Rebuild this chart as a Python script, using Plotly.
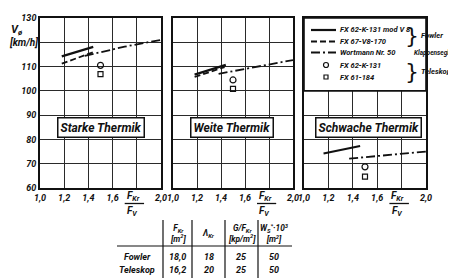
import plotly.graph_objects as go

W, H = 456, 278
OFF = 8  # page body margin offset of the plot div
FONT = "Roboto, Liberation Sans Narrow, DejaVu Sans Condensed, sans-serif"

# ---- data ----
panels = ["Starke Thermik", "Weite Thermik", "Schwache Thermik"]
series_names = ["FX 62-K-131 mod V 8", "FX 67-V8-170", "Wortmann Nr. 50", "FX 62-K-131", "FX 61-184"]

solid_x = [[1.18, 1.44], [1.18, 1.44], [1.16, 1.46]]
solid_y = [[114.2, 118.1], [106.7, 110.7], [74.2, 77.3]]
dashed_x = [[1.18, 1.45], [1.18, 1.43], None]
dashed_y = [[111.2, 116.1], [105.7, 109.8], None]
dashdot_x = [[1.37, 1.7, 2.0], [1.38, 1.7, 2.0], [1.37, 1.7, 2.0]]
dashdot_y = [[114.4, 118.2, 121.0], [107.0, 110.0, 112.7], [72.1, 73.7, 75.0]]
circle_x = [1.5, 1.5, 1.5]
circle_y = [110.5, 104.5, 68.7]
square_x = [1.5, 1.5, 1.5]
square_y = [106.9, 100.8, 64.7]
label_x = [1.50, 1.49, 1.53]
label_y = [85, 85, 85]

x_ticks = [1.0, 1.2, 1.4, 1.6, 1.8, 2.0]
x_ticktext = ["1,0", "1,2", "1,4", "1,6", "", "2,0"]
y_ticks = [60, 70, 80, 90, 100, 110, 120, 130]
y_ticktext = ["60", "70", "80", "90", "100", "110", "", "130"]

table_cols = ["F<sub>Kr</sub><br>[m<sup>2</sup>]", "Λ<sub>Kr</sub>", "G/F<sub>Kr</sub><br>[kp/m<sup>2</sup>]", "W<sub>S</sub><sup>*</sup>·10<sup>3</sup><br>[m<sup>2</sup>]"]
table_rows = ["Fowler", "Teleskop"]
table_vals = [["18,0", "18", "25", "50"], ["16,2", "20", "25", "50"]]

# ---- layout geometry (screen pixels) ----
def px(x):
    return (x - OFF) / W

def py(y):
    return 1 - (y - OFF) / H

doms = [(40, 161), (173, 293), (304, 426)]
ytop, ybot = 18, 188

fig = go.Figure()
ink = "#111"
dash_style = "6px,3px"
dashdot_style = "9px,3px,2px,3px"

for i in range(3):
    xa = "x" if i == 0 else f"x{i+1}"
    ya = "y" if i == 0 else f"y{i+1}"
    fig.add_trace(go.Scatter(x=solid_x[i], y=solid_y[i], mode="lines", xaxis=xa, yaxis=ya,
                             line=dict(color=ink, width=2.2), showlegend=False))
    if dashed_x[i] is not None:
        fig.add_trace(go.Scatter(x=dashed_x[i], y=dashed_y[i], mode="lines", xaxis=xa, yaxis=ya,
                                 line=dict(color=ink, width=1.8, dash=dash_style), showlegend=False))
    fig.add_trace(go.Scatter(x=dashdot_x[i], y=dashdot_y[i], mode="lines", xaxis=xa, yaxis=ya,
                             line=dict(color=ink, width=1.8, dash=dashdot_style), showlegend=False))
    fig.add_trace(go.Scatter(x=[circle_x[i]], y=[circle_y[i]], mode="markers", xaxis=xa, yaxis=ya,
                             marker=dict(symbol="circle-open", size=6, color=ink, line=dict(width=1.2)),
                             showlegend=False))
    fig.add_trace(go.Scatter(x=[square_x[i]], y=[square_y[i]], mode="markers", xaxis=xa, yaxis=ya,
                             marker=dict(symbol="square-open", size=5, color=ink, line=dict(width=1.2)),
                             showlegend=False))

tickfont = dict(family=FONT, size=9, color=ink, style="italic", weight="bold")
axis_common = dict(range=[1.0, 2.0], showgrid=True, gridcolor="#2a2a2a", gridwidth=1,
                   showline=True, mirror=True, linecolor=ink, linewidth=1.6, zeroline=False,
                   ticks="", tickvals=x_ticks, ticktext=x_ticktext, tickfont=tickfont)
yaxis_common = dict(range=[60, 130], showgrid=True, gridcolor="#2a2a2a", gridwidth=1,
                    showline=True, mirror=True, linecolor=ink, linewidth=1.6, zeroline=False,
                    ticks="", tickvals=y_ticks, ticktext=y_ticktext, tickfont=tickfont)

layout = dict(width=W, height=H, margin=dict(l=0, r=0, t=0, b=0, autoexpand=False),
              paper_bgcolor="white", plot_bgcolor="white", showlegend=False)
for i in range(3):
    suffix = "" if i == 0 else str(i + 1)
    xd = dict(axis_common, domain=[px(doms[i][0]), px(doms[i][1])], anchor="y" + suffix)
    yd = dict(yaxis_common, domain=[py(ybot), py(ytop)], anchor="x" + suffix)
    if i > 0:
        yd["showticklabels"] = False
    layout["xaxis" + suffix] = xd
    layout["yaxis" + suffix] = yd
fig.update_layout(**layout)

shapes = []
annotations = []
tf = dict(family=FONT, color=ink, style="italic", weight="bold")


def note(x, y, text, size, xref="paper", yref="paper", xanchor="center", **kw):
    d = dict(x=x, y=y, xref=xref, yref=yref, text=text, showarrow=False,
             xanchor=xanchor, yanchor="middle", font=dict(tf, size=size))
    d.update(kw)
    annotations.append(d)


# panel labels and fraction F_Kr / F_V at 1.8
for i in range(3):
    suffix = "" if i == 0 else str(i + 1)
    note(label_x[i], label_y[i], panels[i], 12, xref="x" + suffix, yref="y" + suffix,
         bgcolor="white", bordercolor=ink, borderwidth=1.5, borderpad=2)
    note(1.77, py(196), "F<sub>Kr</sub>", 10, xref="x" + suffix)
    note(1.76, py(211), "F<sub>V</sub>", 10, xref="x" + suffix)
    shapes.append(dict(type="line", xref="x" + suffix, yref="paper", x0=1.70, x1=1.86,
                       y0=py(203.5), y1=py(203.5), line=dict(color=ink, width=1.3)))

# legend box in panel 3
shapes.append(dict(type="rect", xref="x3", yref="y3", x0=1.0, x1=2.0, y0=100, y1=130,
                   fillcolor="white", line=dict(color=ink, width=1.6), layer="above"))
leg_rows = [30, 41.5, 52.5, 65, 77]
lx0, lx1 = 311, 336
shapes.append(dict(type="line", xref="paper", yref="paper", x0=px(lx0), x1=px(lx1), y0=py(leg_rows[0]), y1=py(leg_rows[0]),
                   line=dict(color=ink, width=2.2)))
shapes.append(dict(type="line", xref="paper", yref="paper", x0=px(lx0), x1=px(lx1), y0=py(leg_rows[1]), y1=py(leg_rows[1]),
                   line=dict(color=ink, width=1.8, dash=dash_style)))
shapes.append(dict(type="line", xref="paper", yref="paper", x0=px(lx0), x1=px(lx1), y0=py(leg_rows[2]), y1=py(leg_rows[2]),
                   line=dict(color=ink, width=1.8, dash=dashdot_style)))
cx = 326
shapes.append(dict(type="circle", xref="paper", yref="paper", x0=px(cx - 2.5), x1=px(cx + 2.5),
                   y0=py(leg_rows[3] + 2.5), y1=py(leg_rows[3] - 2.5), line=dict(color=ink, width=1.2)))
shapes.append(dict(type="rect", xref="paper", yref="paper", x0=px(cx - 2), x1=px(cx + 2),
                   y0=py(leg_rows[4] + 2), y1=py(leg_rows[4] - 2), line=dict(color=ink, width=1.2)))
for r, name in zip(leg_rows, series_names):
    note(px(338), py(r), name, 7.5, xanchor="left")

# braces and group labels
brace_font = dict(family="DejaVu Sans", size=22, color=ink)
annotations.append(dict(x=px(403), y=py(35.5), xref="paper", yref="paper", text="}", showarrow=False,
                        xanchor="left", yanchor="middle", font=brace_font))
annotations.append(dict(x=px(403), y=py(71), xref="paper", yref="paper", text="}", showarrow=False,
                        xanchor="left", yanchor="middle", font=brace_font))
note(px(419), py(35), "Fowler", 7.5, xanchor="left")
note(px(412), py(53), "Klappensegler", 6.5, xanchor="left")
note(px(419), py(71), "Teleskop", 7.5, xanchor="left")

# y axis title
note(px(17), py(30), "V<sub>ø</sub>", 11)
note(px(23), py(43), "[km/h]", 10)

# table
col_x = [177.5, 208.5, 241.5, 274]
vlines = [163, 192, 225, 258]
for xv in vlines:
    shapes.append(dict(type="line", xref="paper", yref="paper", x0=px(xv), x1=px(xv), y0=py(220), y1=py(282),
                       line=dict(color=ink, width=1.2)))
shapes.append(dict(type="line", xref="paper", yref="paper", x0=px(117), x1=px(292), y0=py(246), y1=py(246),
                   line=dict(color=ink, width=1.2)))
for cxp, head in zip(col_x, table_cols):
    note(px(cxp), py(233), head, 8.3)
row_y = [257, 270]
for ry, rn, vals in zip(row_y, table_rows, table_vals):
    note(px(137), py(ry), rn, 9)
    for cxp, v in zip(col_x, vals):
        note(px(cxp), py(ry), v, 9)

fig.update_layout(shapes=shapes, annotations=annotations)
fig.write_html("out.html")
